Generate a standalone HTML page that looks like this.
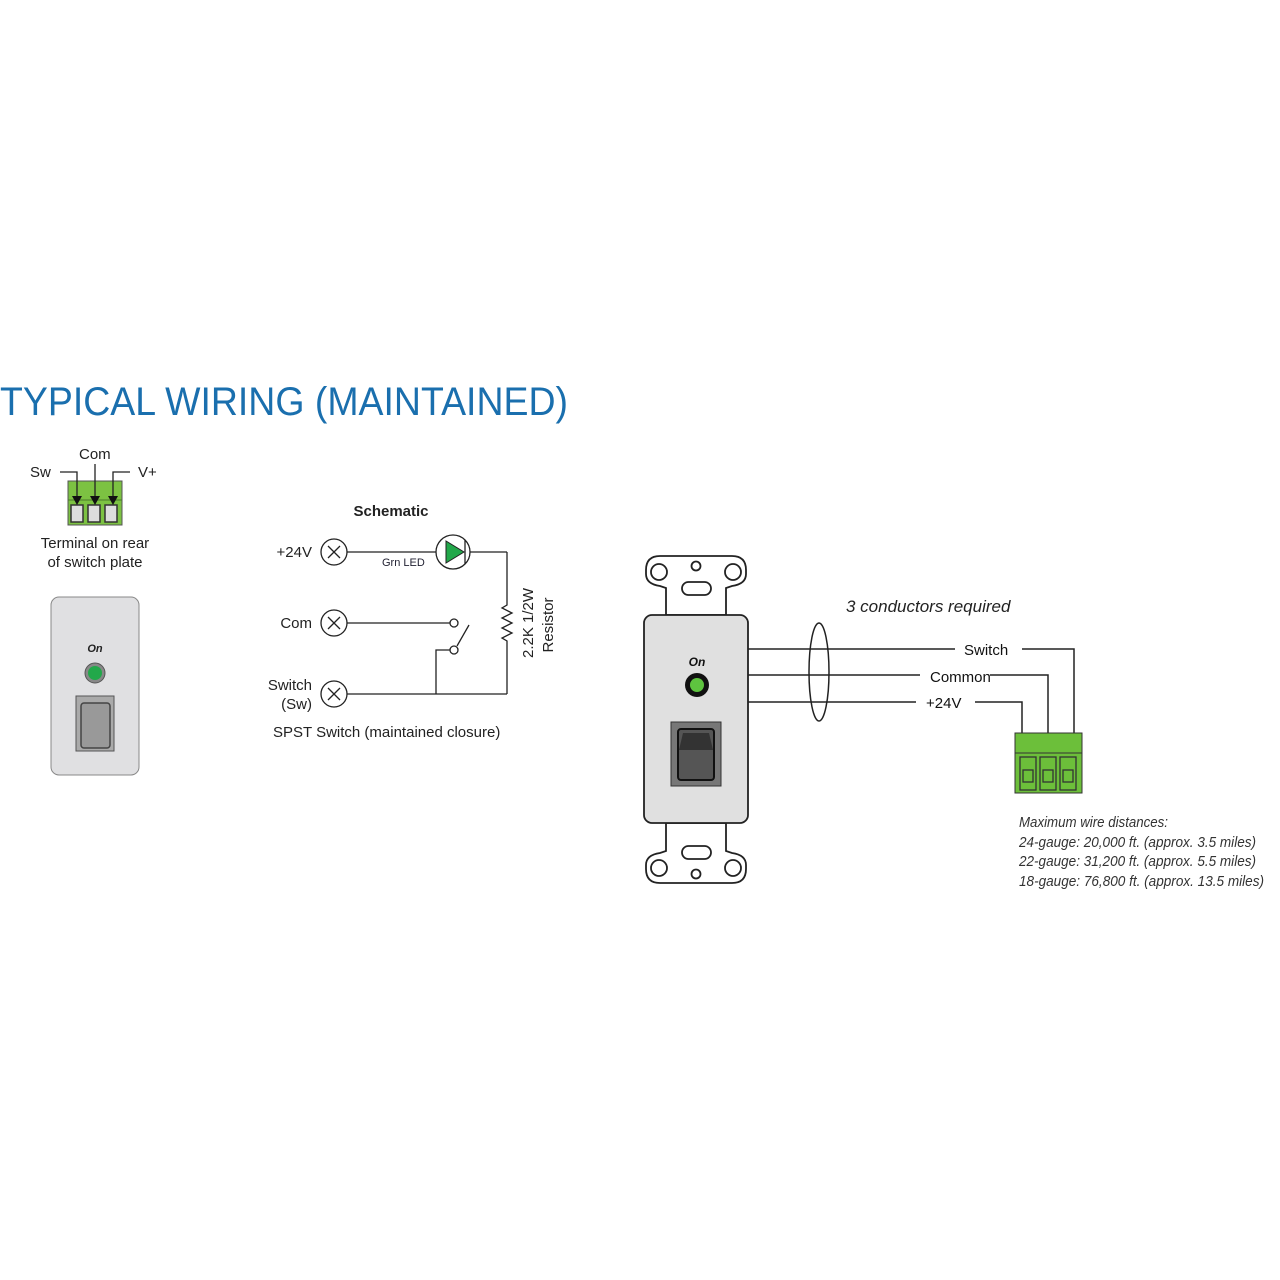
<!DOCTYPE html>
<html><head><meta charset="utf-8"><style>
html,body{margin:0;padding:0;background:#fff;}
svg{display:block;font-family:"Liberation Sans",sans-serif;}
</style></head><body>
<svg width="1280" height="1280" viewBox="0 0 1280 1280" xmlns="http://www.w3.org/2000/svg">
<text x="0" y="415" font-size="40" fill="#1a6fae" textLength="568" lengthAdjust="spacingAndGlyphs">TYPICAL WIRING (MAINTAINED)</text>

<!-- left terminal -->
<rect x="68" y="481" width="54" height="44" fill="#7cc242" stroke="#555" stroke-width="1"/>
<line x1="68" y1="500" x2="122" y2="500" stroke="#4a7a2a"/>
<g fill="#ddd" stroke="#333" stroke-width="1.5">
<rect x="71" y="505" width="12" height="17"/><rect x="88" y="505" width="12" height="17"/><rect x="105" y="505" width="12" height="17"/>
</g>
<g fill="none" stroke="#222" stroke-width="1.3">
<polyline points="60,472 77,472 77,498"/><line x1="95" y1="464" x2="95" y2="498"/><polyline points="130,472 113,472 113,498"/>
</g>
<g fill="#111"><polygon points="72,496 82,496 77,505"/><polygon points="90,496 100,496 95,505"/><polygon points="108,496 118,496 113,505"/></g>
<text x="30" y="477" font-size="15" fill="#222">Sw</text>
<text x="79" y="459" font-size="15" fill="#222">Com</text>
<text x="138" y="477" font-size="15" fill="#222">V+</text>
<text x="95" y="548" font-size="15" fill="#222" text-anchor="middle">Terminal on rear</text>
<text x="95" y="567" font-size="15" fill="#222" text-anchor="middle">of switch plate</text>

<rect x="51" y="597" width="88" height="178" rx="8" fill="#e0e0e2" stroke="#888"/>
<text x="95" y="652" font-size="11" font-weight="bold" font-style="italic" text-anchor="middle" fill="#222">On</text>
<circle cx="95" cy="673" r="10" fill="#888" stroke="#555"/>
<circle cx="95" cy="673" r="7" fill="#22a84a"/>
<rect x="76" y="696" width="38" height="55" fill="#aaa" stroke="#555"/>
<rect x="81" y="703" width="29" height="45" rx="3" fill="#999" stroke="#444" stroke-width="1.5"/>

<!-- schematic -->
<text x="391" y="516" font-size="15" font-weight="bold" text-anchor="middle" fill="#222">Schematic</text>
<g fill="#fff" stroke="#222" stroke-width="1.3">
<circle cx="334" cy="552" r="13"/><circle cx="334" cy="623" r="13"/><circle cx="334" cy="694" r="13"/>
</g>
<g stroke="#222" stroke-width="1.3" fill="none">
<path d="M328,546 l12,12 M340,546 l-12,12 M328,617 l12,12 M340,617 l-12,12 M328,688 l12,12 M340,688 l-12,12"/>
<line x1="347" y1="552" x2="436" y2="552"/>
<circle cx="453" cy="552" r="17"/>
<line x1="470" y1="552" x2="507" y2="552"/>
<line x1="465" y1="540" x2="465" y2="564"/>
<polyline points="507,552 507,605 502,608 512,613 502,618 512,623 502,628 512,633 502,638 507,641 507,694"/>
<line x1="347" y1="694" x2="507" y2="694"/>
<line x1="347" y1="623" x2="450" y2="623"/>
<circle cx="454" cy="623" r="4" fill="#fff"/>
<circle cx="454" cy="650" r="4" fill="#fff"/>
<line x1="457" y1="646" x2="469" y2="625"/>
<polyline points="450,650 436,650 436,694"/>
</g>
<polygon points="446,541 446,563 464,552" fill="#22a84a" stroke="#222"/>
<text x="312" y="557" font-size="15" text-anchor="end" fill="#222">+24V</text>
<text x="312" y="628" font-size="15" text-anchor="end" fill="#222">Com</text>
<text x="312" y="690" font-size="15" text-anchor="end" fill="#222">Switch</text>
<text x="312" y="709" font-size="15" text-anchor="end" fill="#222">(Sw)</text>
<text x="382" y="566" font-size="11" fill="#223">Grn LED</text>
<text transform="translate(533,623) rotate(-90)" font-size="15" text-anchor="middle" fill="#222">2.2K 1/2W</text>
<text transform="translate(553,625) rotate(-90)" font-size="15" text-anchor="middle" fill="#222">Resistor</text>
<text x="273" y="737" font-size="15" fill="#222">SPST Switch (maintained closure)</text>

<!-- right plate -->
<g fill="#fff" stroke="#222" stroke-width="1.8">
<path d="M660,556 L732,556 Q746,556 746,570 L746,574 Q746,584 732,586 L726,588 L726,615 L666,615 L666,588 L660,586 Q646,584 646,574 L646,570 Q646,556 660,556 Z"/>
<path d="M660,883 L732,883 Q746,883 746,869 L746,865 Q746,855 732,853 L726,851 L726,823 L666,823 L666,851 L660,853 Q646,855 646,865 L646,869 Q646,883 660,883 Z"/>
<circle cx="659" cy="572" r="8"/><circle cx="733" cy="572" r="8"/><circle cx="696" cy="566" r="4.5"/>
<rect x="682" y="582" width="29" height="13" rx="6.5"/>
<circle cx="659" cy="868" r="8"/><circle cx="733" cy="868" r="8"/><circle cx="696" cy="874" r="4.5"/>
<rect x="682" y="846" width="29" height="13" rx="6.5"/>
</g>
<rect x="644" y="615" width="104" height="208" rx="8" fill="#e0e0e0" stroke="#222" stroke-width="1.8"/>
<text x="697" y="666" font-size="12" font-weight="bold" font-style="italic" text-anchor="middle" fill="#111">On</text>
<circle cx="697" cy="685" r="12" fill="#111"/>
<circle cx="697" cy="685" r="7" fill="#5ec43f"/>
<rect x="671" y="722" width="50" height="64" fill="#777" stroke="#333"/>
<rect x="678" y="729" width="36" height="51" rx="3" fill="#555" stroke="#111" stroke-width="2"/>
<polygon points="683,733 709,733 713,750 679,750" fill="#333"/>

<g stroke="#222" stroke-width="1.5" fill="none">
<line x1="748" y1="649" x2="955" y2="649"/>
<polyline points="1022,649 1074,649 1074,733"/>
<line x1="748" y1="675" x2="920" y2="675"/>
<polyline points="990,675 1048,675 1048,733"/>
<line x1="748" y1="702" x2="916" y2="702"/>
<polyline points="975,702 1022,702 1022,733"/>
<ellipse cx="819" cy="672" rx="10" ry="49"/>
</g>
<text x="846" y="612" font-size="17" font-style="italic" fill="#222">3 conductors required</text>
<text x="964" y="655" font-size="15" fill="#111">Switch</text>
<text x="930" y="682" font-size="15" fill="#111">Common</text>
<text x="926" y="708" font-size="15" fill="#111">+24V</text>

<rect x="1015" y="733" width="67" height="60" fill="#6cbf3a" stroke="#333"/>
<line x1="1015" y1="753" x2="1082" y2="753" stroke="#333"/>
<g fill="none" stroke="#333" stroke-width="1.3">
<rect x="1020" y="757" width="16" height="33"/><rect x="1040" y="757" width="16" height="33"/><rect x="1060" y="757" width="16" height="33"/>
<rect x="1023" y="770" width="10" height="12"/><rect x="1043" y="770" width="10" height="12"/><rect x="1063" y="770" width="10" height="12"/>
</g>

<g font-size="15" font-style="italic" fill="#333">
<text x="1019" y="827" textLength="149" lengthAdjust="spacingAndGlyphs">Maximum wire distances:</text>
<text x="1019" y="847" textLength="237" lengthAdjust="spacingAndGlyphs">24-gauge: 20,000 ft. (approx. 3.5 miles)</text>
<text x="1019" y="866" textLength="237" lengthAdjust="spacingAndGlyphs">22-gauge: 31,200 ft. (approx. 5.5 miles)</text>
<text x="1019" y="886" textLength="245" lengthAdjust="spacingAndGlyphs">18-gauge: 76,800 ft. (approx. 13.5 miles)</text>
</g>
</svg>
</body></html>
